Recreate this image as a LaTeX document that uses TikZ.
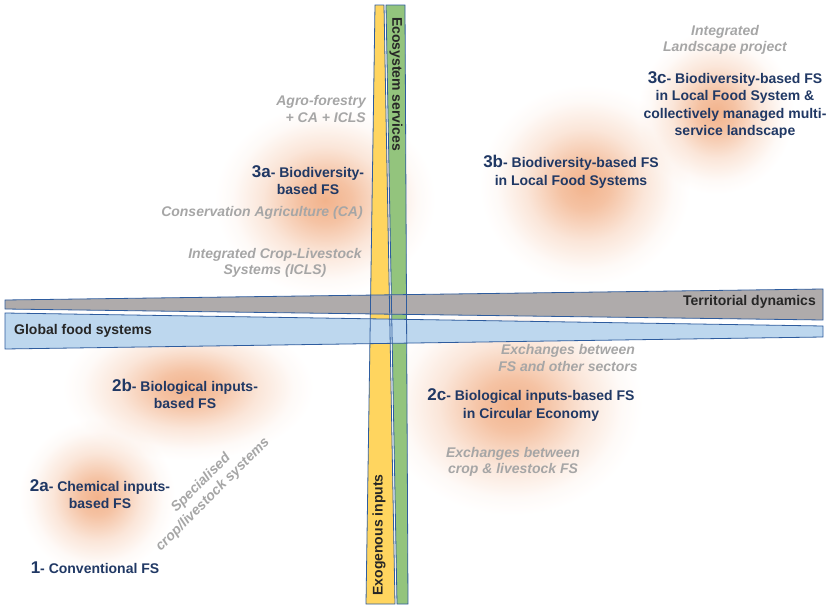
\documentclass[tikz,border=0pt]{standalone}
\usepackage{fontspec}
\setmainfont{Liberation Sans}
\usetikzlibrary{fadings}

\definecolor{navy}{HTML}{203864}
\definecolor{greytext}{HTML}{A6A6A6}
\definecolor{bandtext}{HTML}{262626}
\definecolor{yellowband}{HTML}{FFD55F}
\definecolor{greenband}{HTML}{93C47D}
\definecolor{greyband}{HTML}{AFABAB}
\definecolor{blueband}{HTML}{BDD7EE}
\definecolor{bandline}{HTML}{2E5C9E}
\definecolor{glowc}{HTML}{EE9A66}

\pgfdeclareradialshading{glowshade}{\pgfpointorigin}{%
  color(0bp)=(black!25); color(6bp)=(black!40); color(14bp)=(black!75);
  color(21bp)=(black!95); color(25bp)=(black); color(50bp)=(black)}
\pgfdeclarefading{glowfade}{\pgfuseshading{glowshade}}

\newcommand{\fsnum}[1]{{\fontsize{17}{17}\selectfont #1}}

\begin{document}
\begin{tikzpicture}[x=1pt,y=-1pt,
    fstype/.style={text=navy,font=\bfseries\fontsize{14}{17.5}\selectfont,align=center,inner sep=0pt},
    practice/.style={text=greytext,font=\bfseries\itshape\fontsize{14}{16.5}\selectfont,align=center,inner sep=0pt},
    bandlabel/.style={text=bandtext,font=\bfseries\fontsize{14}{17}\selectfont,inner sep=0pt},
    band/.style={draw=bandline,line width=.8pt},
    glow/.style={fill=glowc,path fading=glowfade}]
  \useasboundingbox (0,0) rectangle (831,605);

  \fill[glow] (325,200) ellipse (110 and 95);
  \fill[glow] (585,185) ellipse (105 and 100);
  \fill[glow] (716,112) ellipse (78 and 82);
  \fill[glow] (188,388) ellipse (125 and 72);
  \fill[glow] (97,497) ellipse (78 and 78);
  \fill[glow] (512,405) ellipse (130 and 110);

  \fill[yellowband] (375,5) -- (384,5) -- (395,604) -- (366,604) -- cycle;
  \fill[greenband] (386,5) -- (405,5) -- (408,604) -- (397,604) -- cycle;
  \draw[band,fill=greyband] (5,300) -- (823,289) -- (823,320) -- (5,309) -- cycle;
  \draw[band,fill=blueband] (5,313) -- (823,326) -- (823,337) -- (5,349) -- cycle;
  \draw[band] (375,5) -- (384,5) -- (395,604) -- (366,604) -- cycle;
  \draw[band] (386,5) -- (405,5) -- (408,604) -- (397,604) -- cycle;

  \node (eco) [bandlabel,rotate=-90] at (396,84) {Ecosystem services};
  \node (exo) [bandlabel,rotate=90] at (379,535) {Exogenous inputs};
  \node (terr) [bandlabel,anchor=east] at (816,302) {Territorial dynamics};
  \node (glob) [bandlabel,anchor=west] at (14,331) {Global food systems};

  \node (agro) [practice,align=right,anchor=east] at (366,109) {Agro-forestry\\+ CA + ICLS};
  \node (fs3a) [fstype] at (308,180) {\fsnum{3a}- Biodiversity-\\based FS};
  \node (ca) [practice] at (262,213) {Conservation Agriculture (CA)};
  \node (icls) [practice] at (275,263) {Integrated Crop-Livestock\\Systems (ICLS)};

  \node (ilp) [practice] at (725,40) {Integrated\\Landscape project};
  \node (fs3c) [fstype] at (735,105) {\fsnum{3c}- Biodiversity-based FS\\in Local Food System \&\\collectively managed multi-\\service landscape};
  \node (fs3b) [fstype] at (571,172) {\fsnum{3b}- Biodiversity-based FS\\in Local Food Systems};

  \node (exsec) [practice] at (568,358) {Exchanges between\\FS and other sectors};
  \node (fs2c) [fstype] at (531,405) {\fsnum{2c}- Biological inputs-based FS\\in Circular Economy};
  \node (excl) [practice] at (513,462) {Exchanges between\\crop \& livestock FS};

  \node (fs2b) [fstype] at (185,394) {\fsnum{2b}- Biological inputs-\\based FS};
  \node (fs2a) [fstype] at (100,494) {\fsnum{2a}- Chemical inputs-\\based FS};
  \node (fs1) [fstype] at (95,568) {\fsnum{1}- Conventional FS};
  \node (spec) [practice,rotate=45] at (207,489) {Specialised\\crop/livestock systems};
\end{tikzpicture}
\end{document}
